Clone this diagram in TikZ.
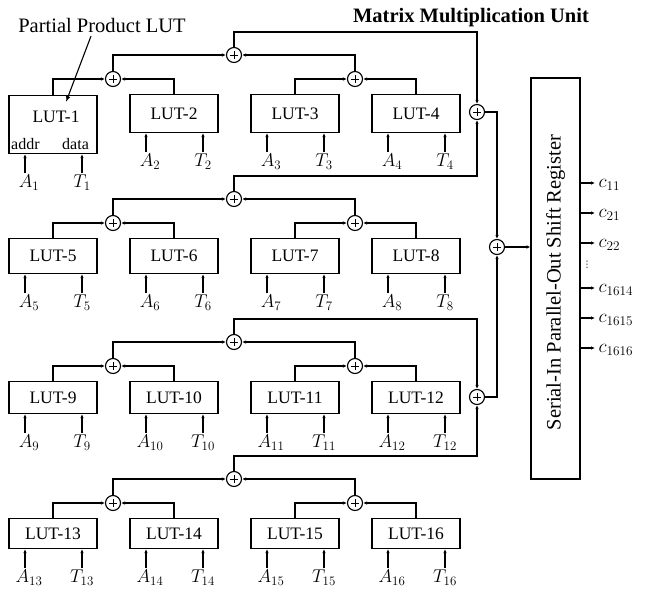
\RequirePackage{fix-cm}
\documentclass[tikz,border=0pt]{standalone}
\usepackage{fontspec}
\setmainfont{Liberation Serif}
\newfontfamily\dotsfont{DejaVu Sans}
\usetikzlibrary{positioning, arrows.meta}

\begin{document}
\begin{tikzpicture}[
        x=1pt, y=1pt,
        >={Latex[length=4pt,width=3.5pt]},
        line width=1.1pt,
        lut/.style={
            draw,
            minimum width=88pt,
            inner sep=0pt,
            anchor=north,
            font=\fontsize{17.5}{20}\selectfont
        },
        adder/.style={
            draw, circle,
            minimum size=15pt,
            inner sep=0pt,
            path picture={
                \draw[line width=0.9pt] ([yshift=-3.5pt]path picture bounding box.north) -- ([yshift=3.5pt]path picture bounding box.south)
                    ([xshift=3.5pt]path picture bounding box.west) -- ([xshift=-3.5pt]path picture bounding box.east);
            }
        },
        sig/.style={inner sep=1pt, font=\fontsize{18.5}{21}\selectfont},
        outsig/.style={anchor=west, inner sep=1pt, font=\fontsize{19}{22}\selectfont}
    ]
        \useasboundingbox (0,0) rectangle (646,-589);

        % group adders, final adder and output register
        \node[adder] (gA) at (477,-112) {};
        \node[adder] (gB) at (477,-397) {};
        \node[adder] (sf) at (497,-247) {};
        \node[draw, minimum width=49pt, minimum height=401pt, inner sep=0pt] (reg) at (555.5,-278.5) {};
        \node[rotate=90, font=\fontsize{20.5}{24}\selectfont] (regtxt) at ([yshift=-4pt]reg.center) {Serial-In Parallel-Out Shift Register};

        % four groups of four LUTs with their adder trees
        \foreach \g/\ytop/\hgt/\grp in {0/94/38/gA, 1/238/35/gA, 2/381/32/gB, 3/518/30/gB} {
            \foreach \j in {1,...,4} {
                \pgfmathtruncatemacro\k{4*\g+\j}
                \pgfmathsetmacro\cx{53+121*(\j-1)}
                \ifnum\k=1
                    \node[lut, minimum height=58pt] (L\k) at (\cx,-95) {};
                \else
                    \node[lut, minimum height=\hgt pt] (L\k) at (\cx,-\ytop) {LUT-\k};
                \fi
                \node[sig, below=19pt of L\k.south, xshift=-24pt] (A\k) {$A_{\k}$};
                \node[sig, below=19pt of L\k.south, xshift=29pt] (T\k) {$T_{\k}$};
                \draw[->] ([xshift=-4pt]A\k.north) -- ([xshift=-4pt]A\k.north |- L\k.south);
                \draw[->] (T\k.north) -- (T\k.north |- L\k.south);
            }
            \pgfmathtruncatemacro\ka{4*\g+1}
            \pgfmathtruncatemacro\kb{4*\g+2}
            \pgfmathtruncatemacro\kc{4*\g+3}
            \pgfmathtruncatemacro\kd{4*\g+4}
            \node[adder] (sa\g) at (113,-\ytop+15) {};
            \node[adder] (sb\g) at (355,-\ytop+15) {};
            \node[adder] (sq\g) at (234,-\ytop+39) {};
            \draw[->] (L\ka.north) |- (sa\g);
            \draw[->] (L\kb.north) |- (sa\g);
            \draw[->] (L\kc.north) |- (sb\g);
            \draw[->] (L\kd.north) |- (sb\g);
            \draw[->] (sa\g) |- (sq\g);
            \draw[->] (sb\g) |- (sq\g);
            \draw[->] (sq\g) -- ++(0,23) -| (\grp);
        }

        % inside of LUT-1
        \node[font=\fontsize{17.5}{20}\selectfont] (lut1txt) at ([xshift=3pt,yshift=-22pt]L1.north) {LUT-1};
        \node[font=\fontsize{16}{18}\selectfont, inner sep=0pt] (addr) at ([shift={(17pt,10pt)}]L1.south west) {addr};
        \node[font=\fontsize{16}{18}\selectfont, inner sep=0pt] (data) at ([shift={(-22pt,10pt)}]L1.south east) {data};

        % adder tree into the register
        \draw[->] (gA) -| (sf);
        \draw[->] (gB) -| (sf);
        \draw[->] (sf) -- (sf -| reg.west);

        % parallel outputs
        \foreach \y/\s in {183/11, 213/21, 243/22, 288/1614, 318/1615, 348/1616} {
            \node[outsig] (c\s) at (597,-\y-2) {$c_{\s}$};
            \draw[->] (reg.east |- 0,-\y) -- (595,-\y);
        }
        \node[font=\dotsfont\fontsize{9}{9}\selectfont, inner sep=0pt] (vd) at (587,-265) {⋮};

        % titles
        \node[font=\fontsize{20.5}{24}\selectfont] (pp) at (102,-25) {Partial Product LUT};
        \coordinate (ppend) at (66,-102);
        \draw[->, >={Latex[length=6pt,width=4.5pt]}] ([xshift=-11pt]pp.south) -- (ppend);
        \node[font=\bfseries\fontsize{20.5}{24}\selectfont] (title) at (471,-18) {Matrix Multiplication Unit};
    \end{tikzpicture}
\end{document}
